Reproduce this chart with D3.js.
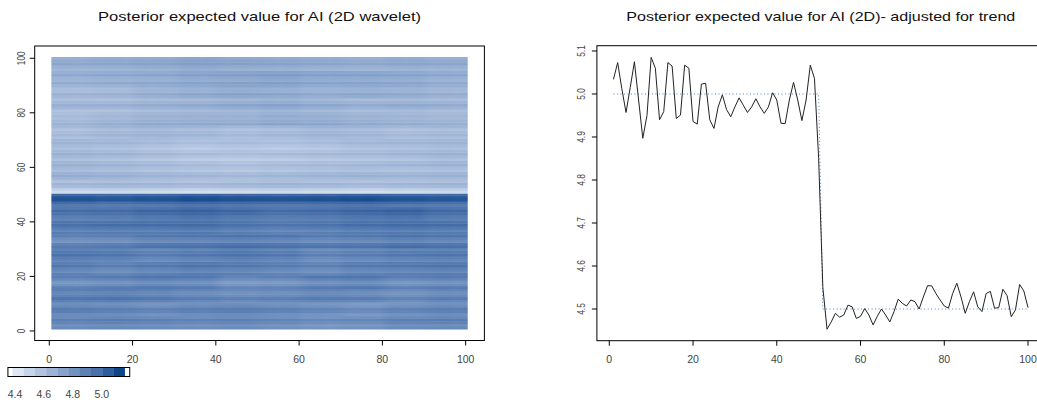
<!DOCTYPE html>
<html>
<head>
<meta charset="utf-8">
<script src="https://cdn.jsdelivr.net/npm/d3@7"></script>
<style>
  body { margin: 0; background: #fff; }
  text { font-family: "Liberation Sans", Arial, sans-serif; }
</style>
</head>
<body>
<div id="chart"></div>
<script>
// ------------ DATA ------------
// right panel: posterior expected value (adjusted for trend), index 1..100
var profileX = d3.range(1, 101);
var profile = [
  5.034, 5.073, 5.012, 4.957, 5.015, 5.075, 4.986, 4.897, 4.950, 5.085,
  5.060, 4.940, 4.959, 5.073, 5.065, 4.943, 4.951, 5.067, 5.060, 4.936,
  4.930, 5.023, 5.025, 4.940, 4.920, 4.970, 4.998, 4.964, 4.947, 4.970,
  4.991, 4.974, 4.957, 4.970, 4.989, 4.970, 4.955, 4.970, 5.003, 4.986,
  4.932, 4.931, 4.986, 5.027, 4.986, 4.938, 4.986, 5.067, 5.036, 4.850,
  4.550, 4.453, 4.470, 4.490, 4.481, 4.486, 4.509, 4.505, 4.478, 4.483,
  4.501, 4.486, 4.463, 4.483, 4.500, 4.486, 4.470, 4.494, 4.523, 4.513,
  4.507, 4.521, 4.517, 4.500, 4.528, 4.554, 4.554, 4.536, 4.521, 4.507,
  4.502, 4.536, 4.560, 4.528, 4.490, 4.517, 4.540, 4.505, 4.494, 4.536,
  4.541, 4.502, 4.503, 4.546, 4.531, 4.482, 4.498, 4.557, 4.542, 4.503
];
// true step trend (dotted)
var trend = [
  5.0, 5.0, 5.0, 5.0, 5.0, 5.0, 5.0, 5.0, 5.0, 5.0,
  5.0, 5.0, 5.0, 5.0, 5.0, 5.0, 5.0, 5.0, 5.0, 5.0,
  5.0, 5.0, 5.0, 5.0, 5.0, 5.0, 5.0, 5.0, 5.0, 5.0,
  5.0, 5.0, 5.0, 5.0, 5.0, 5.0, 5.0, 5.0, 5.0, 5.0,
  5.0, 5.0, 5.0, 5.0, 5.0, 5.0, 5.0, 5.0, 5.0, 5.0,
  4.5, 4.5, 4.5, 4.5, 4.5, 4.5, 4.5, 4.5, 4.5, 4.5,
  4.5, 4.5, 4.5, 4.5, 4.5, 4.5, 4.5, 4.5, 4.5, 4.5,
  4.5, 4.5, 4.5, 4.5, 4.5, 4.5, 4.5, 4.5, 4.5, 4.5,
  4.5, 4.5, 4.5, 4.5, 4.5, 4.5, 4.5, 4.5, 4.5, 4.5,
  4.5, 4.5, 4.5, 4.5, 4.5, 4.5, 4.5, 4.5, 4.5, 4.5
];

// left panel: row levels of the 2D wavelet posterior (row 1 = bottom)
var heatRows = [
  4.85, 4.82, 4.87, 4.90, 4.84, 4.83, 4.89, 4.91, 4.85, 4.82,
  4.87, 4.92, 4.86, 4.84, 4.88, 4.91, 4.83, 4.81, 4.87, 4.92,
  4.89, 4.85, 4.87, 4.93, 4.90, 4.86, 4.88, 4.94, 4.91, 4.87,
  4.96, 4.92, 4.84, 4.87, 4.93, 4.90, 4.87, 4.91, 4.96, 4.93,
  4.88, 4.90, 4.95, 4.98, 4.93, 4.90, 4.96, 5.06, 5.05, 4.97,
  4.47, 4.52, 4.61, 4.65, 4.59, 4.61, 4.66, 4.63, 4.58, 4.60,
  4.65, 4.62, 4.57, 4.61, 4.65, 4.63, 4.59, 4.62, 4.66, 4.64,
  4.61, 4.65, 4.63, 4.60, 4.65, 4.69, 4.66, 4.63, 4.65, 4.63,
  4.61, 4.66, 4.70, 4.65, 4.61, 4.66, 4.69, 4.64, 4.63, 4.68,
  4.70, 4.65, 4.66, 4.71, 4.68, 4.63, 4.66, 4.71, 4.69, 4.67
];
// left panel: smooth deviations by 5-row band (bottom first) x 10-column band
var heatDev = [
  [ 0.00,  0.01,  0.00, -0.01,  0.00, -0.02, -0.04, -0.03,  0.00,  0.01],
  [ 0.01,  0.00, -0.02,  0.00,  0.01, -0.01, -0.03, -0.05, -0.02,  0.00],
  [ 0.02,  0.03,  0.01, -0.01, -0.03, -0.02,  0.00, -0.01, -0.04, -0.01],
  [-0.02,  0.00,  0.02,  0.01, -0.04, -0.03,  0.01,  0.02, -0.02,  0.00],
  [ 0.00, -0.02,  0.00,  0.02,  0.01, -0.01, -0.03,  0.00,  0.01,  0.02],
  [ 0.02,  0.01, -0.02,  0.00,  0.02,  0.00, -0.04, -0.02,  0.00,  0.01],
  [-0.04, -0.03,  0.00,  0.01,  0.02,  0.01, -0.01,  0.00,  0.02,  0.01],
  [ 0.01,  0.02,  0.02,  0.03,  0.01, -0.01,  0.00,  0.02,  0.03,  0.02],
  [ 0.00,  0.01,  0.03,  0.05,  0.03,  0.01,  0.02,  0.04,  0.05,  0.02],
  [ 0.02,  0.01,  0.02,  0.04,  0.03,  0.02,  0.03,  0.04,  0.02,  0.01],
  [ 0.00,  0.01,  0.00, -0.01,  0.00,  0.01,  0.00, -0.01,  0.00,  0.01],
  [ 0.03,  0.02,  0.00, -0.01, -0.02, -0.01,  0.00,  0.01,  0.00,  0.01],
  [ 0.02,  0.01, -0.01, -0.03, -0.04, -0.03, -0.02, -0.01,  0.00,  0.02],
  [ 0.00, -0.01, -0.03, -0.05, -0.04, -0.05, -0.04, -0.02, -0.01,  0.00],
  [-0.02,  0.00,  0.01,  0.00, -0.02, -0.01,  0.01,  0.00, -0.02, -0.01],
  [-0.03, -0.01,  0.01,  0.02,  0.02,  0.04,  0.03,  0.01,  0.00, -0.01],
  [-0.02, -0.02,  0.00,  0.01,  0.03,  0.04,  0.02,  0.00,  0.01,  0.00],
  [-0.03, -0.02,  0.01,  0.03,  0.05,  0.04,  0.02,  0.03,  0.02,  0.00],
  [ 0.00,  0.01,  0.02,  0.04,  0.05,  0.06,  0.04,  0.04,  0.03,  0.01],
  [ 0.01,  0.02,  0.03,  0.05,  0.04,  0.03,  0.02,  0.01,  0.02,  0.01]
];

// colour key
var keyColors = ["#dfe7f3", "#c7d5ea", "#b1c3df", "#9cb3d5", "#87a3cb",
                 "#7292c0", "#5d81b5", "#4870aa", "#2f5c9c", "#0f468a"];
var keyBreaks = [4.383, 4.461, 4.538, 4.616, 4.693, 4.771, 4.849, 4.926, 5.004, 5.081, 5.159];
var keyTicks = [4.4, 4.6, 4.8, 5.0];
var axisTicks = [0, 20, 40, 60, 80, 100];
var yTicksRight = [4.5, 4.6, 4.7, 4.8, 4.9, 5.0, 5.1];

// ------------ SVG ------------
var svgWidth = 1037;
var svgHeight = 403;

var svg = d3.select("#chart")
  .append("svg")
  .attr("width", svgWidth)
  .attr("height", svgHeight);

var defs = svg.append("defs");
defs.append("filter")
  .attr("id", "soft")
  .attr("x", "-3%").attr("y", "-3%").attr("width", "106%").attr("height", "106%")
  .append("feGaussianBlur")
  .attr("stdDeviation", "5 0.6");
defs.append("clipPath")
  .attr("id", "heatClip")
  .append("rect");

var fontColor = "#444";

// ------------ LEFT PANEL (heatmap) ------------
var xL = d3.scaleLinear().domain([-3.5, 104.5]).range([34.7, 484.4]);
var yL = d3.scaleLinear().domain([-3.5, 104.5]).range([340.5, 46]);

// continuous colour through key colours
var colorDomain = keyColors.map(function(c, i) { return (keyBreaks[i] + keyBreaks[i + 1]) / 2; });
var color = d3.scaleLinear().domain(colorDomain).range(keyColors).clamp(true);

var cells = [];
heatRows.forEach(function(v, r) {
  for (var c = 0; c < 100; c++) {
    cells.push({ col: c + 1, row: r + 1, value: v + heatDev[Math.floor(r / 5)][Math.floor(c / 10)] });
  }
});

d3.select("#heatClip rect")
  .attr("x", xL(0.5)).attr("y", yL(100.5))
  .attr("width", xL(100.5) - xL(0.5))
  .attr("height", yL(0.5) - yL(100.5));

// padded so the blur does not fade at the edges
svg.append("g")
  .attr("clip-path", "url(#heatClip)")
  .append("g")
  .attr("filter", "url(#soft)")
  .selectAll("rect")
  .data(cells)
  .enter()
  .append("rect")
    .attr("x", d => xL(d.col - 0.5) - (d.col === 1 ? 12 : 0))
    .attr("y", d => yL(d.row + 0.5) - (d.row === 100 ? 4 : 0))
    .attr("width", d => xL(1) - xL(0) + 0.4 + (d.col === 1 || d.col === 100 ? 12 : 0))
    .attr("height", d => yL(0) - yL(1) + 0.4 + (d.row === 1 || d.row === 100 ? 4 : 0))
    .attr("fill", d => color(d.value));

function drawFrame(x, y, xt, yt, yFmt, labelX) {
  var x0 = x.range()[0], x1 = x.range()[1];
  var y0 = y.range()[0], y1 = y.range()[1];
  svg.append("rect")
    .attr("x", x0).attr("y", y1)
    .attr("width", x1 - x0).attr("height", y0 - y1)
    .attr("fill", "none").attr("stroke", "#000").attr("stroke-width", 1);

  // bottom ticks
  var gx = svg.append("g");
  gx.selectAll("line").data(xt).enter().append("line")
    .attr("x1", d => x(d)).attr("x2", d => x(d))
    .attr("y1", y0).attr("y2", y0 + 5)
    .attr("stroke", "#000");
  gx.selectAll("text").data(xt).enter().append("text")
    .attr("x", d => x(d)).attr("y", y0 + 22)
    .attr("text-anchor", "middle")
    .attr("font-size", "10.5px")
    .attr("fill", fontColor)
    .text(d => d);

  // left ticks
  var gy = svg.append("g");
  gy.selectAll("line").data(yt).enter().append("line")
    .attr("x1", x0 - 5).attr("x2", x0)
    .attr("y1", d => y(d)).attr("y2", d => y(d))
    .attr("stroke", "#000");
  gy.selectAll("text").data(yt).enter().append("text")
    .attr("transform", d => "translate(" + labelX + "," + y(d) + ") rotate(-90) scale(0.8,1.1)")
    .attr("text-anchor", "middle")
    .attr("font-size", "10.5px")
    .attr("fill", fontColor)
    .text(yFmt);
}

drawFrame(xL, yL, axisTicks, axisTicks, d => d, 25);

svg.append("text")
  .attr("x", (xL.range()[0] + xL.range()[1]) / 2)
  .attr("y", 21)
  .attr("text-anchor", "middle")
  .attr("font-size", "13px")
  .attr("textLength", 323)
  .attr("lengthAdjust", "spacingAndGlyphs")
  .attr("fill", "#111")
  .text("Posterior expected value for AI (2D wavelet)");

// colour key
var xK = d3.scaleLinear().domain([4.4, 5.0]).range([15, 101.7]);
var keyY = 367.5, keyH = 9;
svg.append("rect")
  .attr("x", xK(4.351)).attr("y", keyY)
  .attr("width", xK(5.194) - xK(4.351)).attr("height", keyH)
  .attr("fill", "#fff");
svg.append("g").selectAll("rect")
  .data(keyColors)
  .enter()
  .append("rect")
    .attr("x", (d, i) => xK(keyBreaks[i]))
    .attr("y", keyY)
    .attr("width", (d, i) => xK(keyBreaks[i + 1]) - xK(keyBreaks[i]) + 0.3)
    .attr("height", keyH)
    .attr("fill", d => d);
svg.append("rect")
  .attr("x", xK(4.351)).attr("y", keyY)
  .attr("width", xK(5.194) - xK(4.351)).attr("height", keyH)
  .attr("fill", "none").attr("stroke", "#000");
svg.append("g").selectAll("text")
  .data(keyTicks)
  .enter()
  .append("text")
    .attr("x", d => xK(d)).attr("y", 398)
    .attr("text-anchor", "middle")
    .attr("font-size", "10.5px")
    .attr("fill", fontColor)
    .text(d => d.toFixed(1));

// ------------ RIGHT PANEL (line) ------------
var xR = d3.scaleLinear().domain([-2.96, 103.96]).range([596.9, 1044.6]);
var yR = d3.scaleLinear().domain([4.4263, 5.1123]).range([340.7, 45.7]);

var trendLine = d3.line()
  .x((d, i) => xR(profileX[i]))
  .y(d => yR(d));

svg.append("path")
  .datum(trend)
  .attr("d", trendLine)
  .attr("fill", "none")
  .attr("stroke", "#4f7fc2")
  .attr("stroke-width", 1)
  .attr("stroke-dasharray", "1,2.5");

svg.append("path")
  .datum(profile)
  .attr("d", trendLine)
  .attr("fill", "none")
  .attr("stroke", "#222")
  .attr("stroke-width", 1);

drawFrame(xR, yR, axisTicks, yTicksRight, d => d.toFixed(1), 585);

svg.append("text")
  .attr("x", (xR.range()[0] + xR.range()[1]) / 2)
  .attr("y", 21)
  .attr("text-anchor", "middle")
  .attr("font-size", "13px")
  .attr("textLength", 389)
  .attr("lengthAdjust", "spacingAndGlyphs")
  .attr("fill", "#111")
  .text("Posterior expected value for AI (2D)- adjusted for trend");
</script>
</body>
</html>
